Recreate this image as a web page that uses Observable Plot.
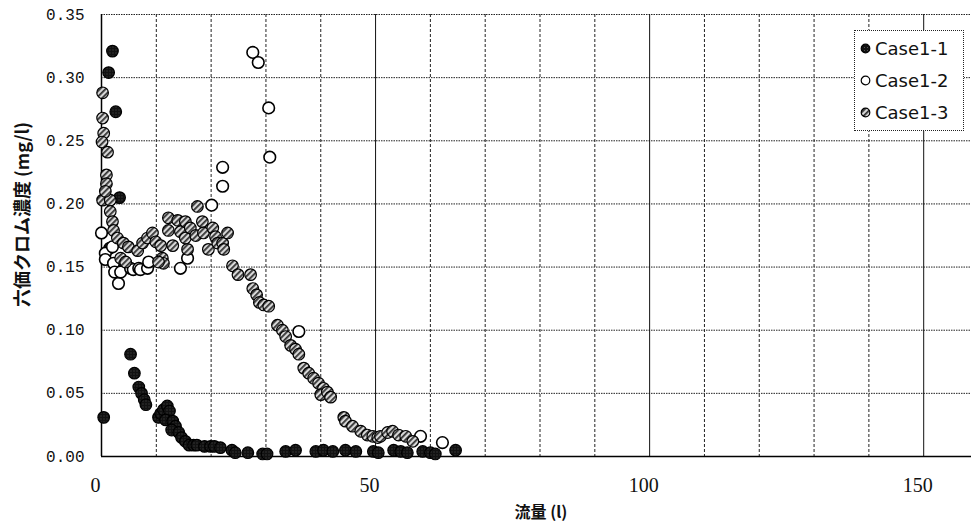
<!DOCTYPE html>
<html>
<head>
<meta charset="utf-8">
<script src="https://cdn.jsdelivr.net/npm/d3@7"></script>
<script src="https://cdn.jsdelivr.net/npm/@observablehq/plot@0.6"></script>
<style>
  body { margin: 0; background: #fff; }
  #wrap { position: relative; width: 971px; height: 531px; overflow: hidden; }
  #legend { position: absolute; left: 854px; top: 30px; width: 108px; border: 1px dotted #222; background: #fff;
            font-family: "DejaVu Sans", sans-serif; font-size: 18px; color: #111; padding: 1px 0 2px 0; }
  #legend .row { display: flex; align-items: center; height: 32px; }
  #legend svg { margin: 0 4px 0 5px; }
</style>
</head>
<body>
<div id="wrap"></div>
<script>
// ---- data ----
const seriesNames = ["Case1-1", "Case1-2", "Case1-3"];

const case11X = [0.4,1.3,2.0,2.6,3.3,1.5,2.4,3.1,5.3,6.0,6.8,7.3,7.8,8.1,10.4,10.8,11.3,12.0,12.4,11.7,13.0,13.5,12.8,14.1,14.6,15.3,16.0,16.8,17.4,18.8,19.9,20.6,21.7,23.8,24.4,26.7,29.4,30.2,33.6,35.4,39.1,40.5,42.2,44.5,46.4,49.6,50.5,53.3,54.6,55.8,58.6,60.0,60.9,64.6];
const case11Y = [0.031,0.304,0.321,0.273,0.205,0.165,0.152,0.146,0.081,0.066,0.055,0.050,0.045,0.041,0.031,0.034,0.037,0.040,0.036,0.029,0.028,0.024,0.021,0.019,0.015,0.012,0.009,0.009,0.009,0.008,0.008,0.008,0.007,0.005,0.003,0.003,0.002,0.002,0.004,0.005,0.004,0.005,0.004,0.005,0.004,0.004,0.003,0.005,0.004,0.003,0.004,0.003,0.002,0.005];

const case12X = [0.0,0.7,0.7,2.0,2.2,2.4,3.1,3.5,5.3,5.8,6.8,7.1,8.4,8.6,14.4,15.7,20.1,22.1,22.1,27.6,28.6,30.5,30.7,36.0,58.2,62.2];
const case12Y = [0.177,0.161,0.156,0.166,0.153,0.146,0.137,0.146,0.149,0.148,0.149,0.148,0.149,0.154,0.149,0.157,0.199,0.214,0.229,0.320,0.312,0.276,0.237,0.099,0.016,0.011];

const case13X = [0.2,0.2,0.4,0.1,1.1,0.9,0.9,0.2,1.6,0.7,1.6,2.0,2.2,2.9,4.0,4.9,3.5,4.4,6.6,7.5,8.4,9.3,9.9,11.1,11.3,10.8,10.4,12.2,12.2,13.0,13.9,14.4,15.3,15.3,15.7,16.2,17.2,18.4,18.6,19.5,20.3,20.8,21.2,22.1,22.3,23.0,17.5,23.9,24.9,27.2,27.6,28.3,28.8,29.6,30.5,32.1,33.0,33.6,34.5,35.4,36.0,36.9,37.8,38.7,39.6,40.5,40.0,41.2,41.8,44.2,44.5,45.8,47.3,48.5,49.5,50.4,50.9,52.2,53.1,54.2,55.5,56.8];
const case13Y = [0.288,0.268,0.256,0.249,0.241,0.223,0.216,0.203,0.203,0.210,0.194,0.186,0.179,0.173,0.169,0.166,0.157,0.154,0.163,0.169,0.173,0.177,0.170,0.157,0.153,0.167,0.154,0.189,0.179,0.167,0.187,0.178,0.186,0.173,0.164,0.181,0.175,0.186,0.177,0.164,0.181,0.174,0.169,0.169,0.164,0.177,0.198,0.151,0.144,0.144,0.133,0.128,0.122,0.120,0.119,0.104,0.100,0.095,0.088,0.085,0.081,0.070,0.066,0.062,0.058,0.054,0.049,0.051,0.047,0.031,0.028,0.024,0.020,0.017,0.016,0.015,0.016,0.019,0.020,0.017,0.016,0.012];

const xTicks = [0, 50, 100, 150];
const xMinorGrid = [10, 20, 30, 40, 60, 70, 80, 90, 110, 120, 130, 140, 160];
const xMajorGrid = [50, 100, 150];
const yTicks = [0, 0.05, 0.10, 0.15, 0.20, 0.25, 0.30, 0.35];
const xDomain = [0, 160];
const yDomain = [0, 0.35];
const xTitle = "流量 (l)";
const yTitle = "六価クロム濃度 (mg/l)";

const toRows = (xs, ys, s) => xs.map((x, i) => ({x, y: ys[i], s}));
const d1 = toRows(case11X, case11Y, seriesNames[0]);
const d2 = toRows(case12X, case12Y, seriesNames[1]);
const d3s = toRows(case13X, case13Y, seriesNames[2]);

const monoFont = "'Liberation Mono', monospace";
const cjk = "'Noto Sans CJK JP', sans-serif";

const chart = Plot.plot({
  width: 971,
  height: 531,
  marginTop: 14,
  marginBottom: 75,
  marginLeft: 101,
  marginRight: -7,
  style: {background: "#fff", color: "#111", overflow: "hidden"},
  x: {domain: xDomain},
  y: {domain: yDomain},
  marks: [
    Plot.ruleY(yTicks.slice(1), {stroke: "#222", strokeWidth: 1, strokeDasharray: "1.5,1"}),
    Plot.ruleX(xMinorGrid, {stroke: "#222", strokeWidth: 1, strokeDasharray: "3,2"}),
    Plot.ruleX(xMajorGrid, {stroke: "#111", strokeWidth: 1}),
    Plot.ruleX([0], {stroke: "#000", strokeWidth: 1.5}),
    Plot.ruleY([0], {stroke: "#000", strokeWidth: 1.5}),
    Plot.axisX({ticks: xTicks, tickSize: 0, tickPadding: 21, dx: -6, label: null,
      fontSize: 20, fontFamily: "'Liberation Serif', serif"}),
    Plot.axisY({ticks: yTicks, tickSize: 0, tickPadding: 17, label: null, tickFormat: d3.format(".2f"),
      fontSize: 16, fontFamily: monoFont}),
    Plot.text([xTitle], {frameAnchor: "bottom", textAnchor: "middle", dx: 1, dy: 61, fontSize: 16, fontWeight: "bold", fontFamily: cjk}),
    Plot.text([yTitle], {frameAnchor: "left", textAnchor: "middle", dx: -78, dy: -21, rotate: -90, fontSize: 18, fontWeight: "bold", fontFamily: cjk}),
    Plot.dot(d1, {x: "x", y: "y", r: 5.8, fill: "url(#dark1)", stroke: "#000", strokeWidth: 1.2}),
    Plot.dot(d2, {x: "x", y: "y", r: 5.8, fill: "#fff", stroke: "#000", strokeWidth: 1.6}),
    Plot.dot(d3s, {x: "x", y: "y", r: 5.8, fill: "url(#hatch3)", stroke: "#000", strokeWidth: 1.2})
  ]
});

const defs = `
<defs>
  <pattern id="hatch3" patternUnits="userSpaceOnUse" width="4" height="4" patternTransform="rotate(45)">
    <rect width="4" height="4" fill="#d8d8d8"/>
    <rect width="1.8" height="4" fill="#333"/>
  </pattern>
  <pattern id="dark1" patternUnits="userSpaceOnUse" width="3" height="3">
    <rect width="3" height="3" fill="#111"/>
    <rect x="1" y="1" width="0.8" height="0.8" fill="#777"/>
  </pattern>
</defs>`;
chart.insertAdjacentHTML("afterbegin", defs);
document.getElementById("wrap").appendChild(chart);

// legend
const legend = document.createElement("div");
legend.id = "legend";
const legendFill = ["url(#dark1)", "#fff", "url(#hatch3)"];
seriesNames.forEach((name, i) => {
  const row = document.createElement("div");
  row.className = "row";
  row.innerHTML = `<svg width="11" height="11"><circle cx="5.5" cy="5.5" r="4.3" fill="${legendFill[i]}" stroke="#000" stroke-width="1.2"/></svg><span>${name}</span>`;
  legend.appendChild(row);
});
document.getElementById("wrap").appendChild(legend);
</script>
</body>
</html>
